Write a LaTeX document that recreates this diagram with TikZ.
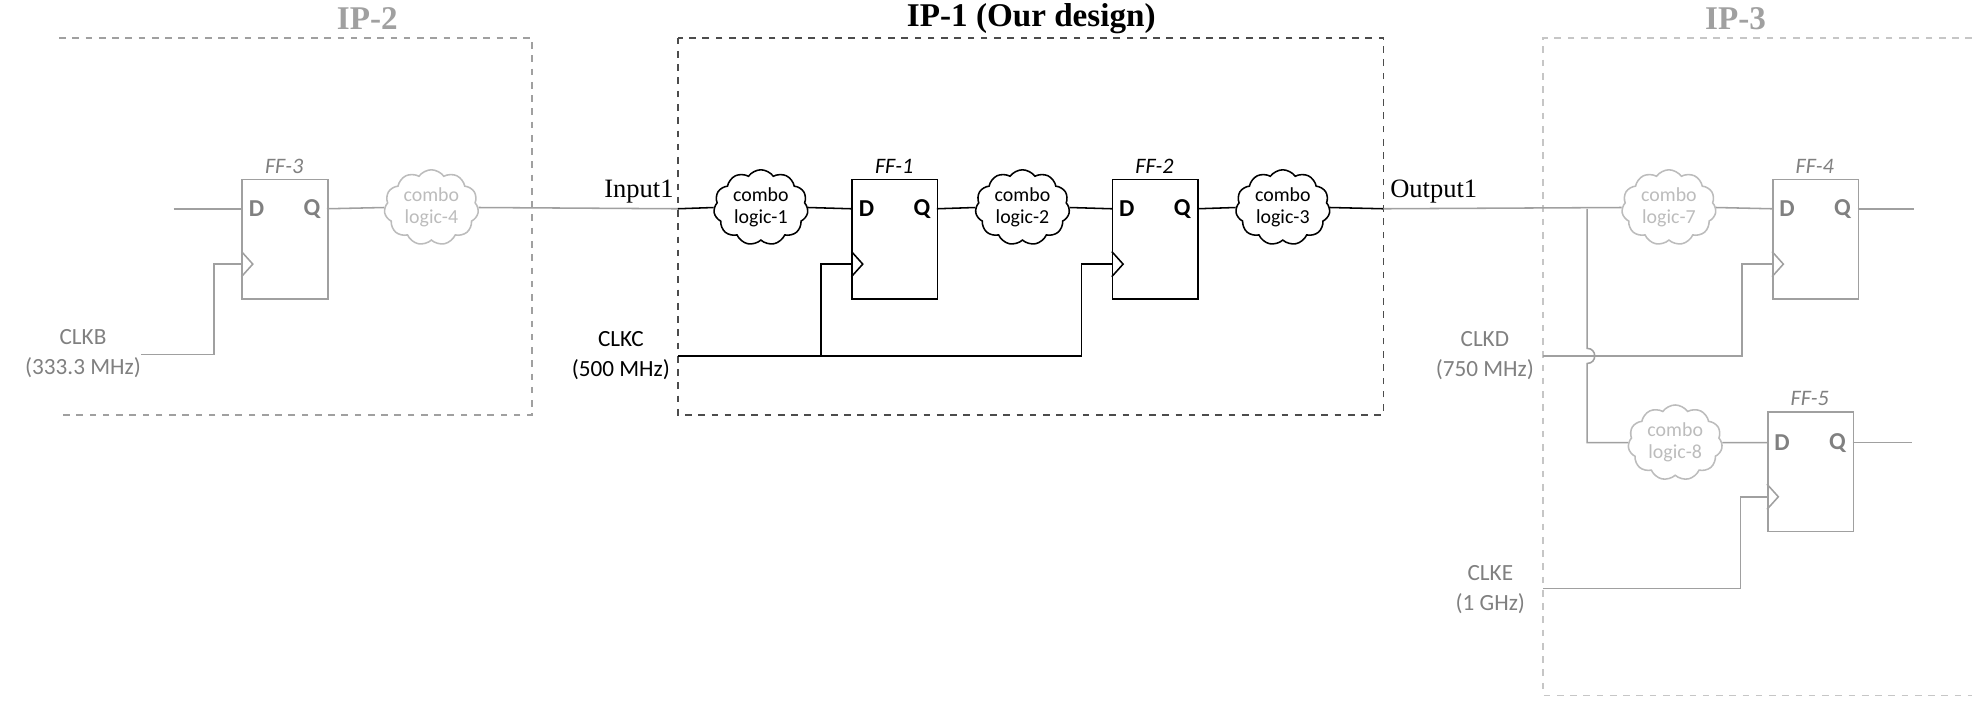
\documentclass[tikz,border=0pt]{standalone}
\usepackage{fontspec}
\setmainfont{Carlito}
\newfontfamily\titlefont{Liberation Serif}
\usetikzlibrary{shapes.symbols}
\definecolor{faded}{RGB}{160,160,160}
\definecolor{fadetext}{RGB}{128,128,128}
\tikzset{
    ff/.style={draw, minimum width=1.36cm, minimum height=1.9cm, anchor=north west, inner sep=0pt},
    combo/.style={cloud, cloud puffs=11, cloud puff arc=110, aspect=1.3, draw, minimum width=1.5cm, minimum height=1.2cm, inner sep=0pt, align=center, font=\fontsize{9}{10}\selectfont},
    pin/.style={font=\bfseries\fontsize{11}{12}\selectfont},
    fflabel/.style={font=\itshape\fontsize{10}{11}\selectfont},
    lbl/.style={align=center, inner sep=1pt, font=\fontsize{10.5}{13.5}\selectfont},
    title/.style={font=\titlefont\bfseries\fontsize{15}{16}\selectfont},
    ghost/.style={faded, text=fadetext},
    ipbox/.style={dashed, thick}
}
\begin{document}
\begin{tikzpicture}[x=0.02cm,y=-0.02cm,line width=0.7pt]
    \useasboundingbox (0,0) rectangle (1568,557);

    % boxes and titles
    \draw[ipbox,faded] (47,30) -- (423,30) -- (423,330) -- (47,330);
    \draw[ipbox,black!70] (539,30) rectangle (1100,330);
    \draw[ipbox,faded!60] (1568,30) -- (1227,30) -- (1227,553) -- (1568,553);
    \node[title,text=faded] (t2) at (292,15) {IP-2};
    \node[title] (t1) at (820,15) {IP-1 (Our design)};
    \node[title,text=faded] (t3) at (1380,15) {IP-3};

    % IP-2
    \begin{scope}[ghost]
        \node[ff] (ff3) at (192,142) {};
        \node[fflabel] at (226,132) {FF-3};
        \node[pin] at (204,166) {D};
        \node[pin] at (248,166) {Q};
        \draw (192,200) -- (201,210) -- (192,220);
        \node[combo,faded!70] (c4) at (343,165) {combo\\logic-4};
        \node[lbl] (clkb) at (66,281) {CLKB\\(333.3 MHz)};
        \coordinate (in3) at (138,166);
        \coordinate (clkbend) at (112,282);
        \draw (in3) -- (192,166);
        \draw (clkbend) -- (170,282) -- (170,210) -- (192,210);
        \draw (260,166) -- (c4.west);
        \draw (c4.east) -- (539,166);
    \end{scope}

    % IP-1
    \node[ff] (ff1) at (677,142) {};
    \node[fflabel] at (711,132) {FF-1};
    \node[pin] at (689,166) {D};
    \node[pin] at (733,166) {Q};
    \draw (677,200) -- (686,210) -- (677,220);
    \node[ff] (ff2) at (884,142) {};
    \node[fflabel] at (918,132) {FF-2};
    \node[pin] at (896,166) {D};
    \node[pin] at (940,166) {Q};
    \draw (884,200) -- (893,210) -- (884,220);
    \node[combo] (c1) at (605,165) {combo\\logic-1};
    \node[combo] (c2) at (813,165) {combo\\logic-2};
    \node[combo] (c3) at (1020,165) {combo\\logic-3};
    \node[font=\titlefont\fontsize{12}{14}\selectfont] (inp) at (508,152) {Input1};
    \node[font=\titlefont\fontsize{12}{14}\selectfont] (outp) at (1140,152) {Output1};
    \node[lbl,anchor=east] (clkc) at (535,283) {CLKC\\(500 MHz)};
    \draw (539,166) -- (c1.west);
    \draw (c1.east) -- (677,166);
    \draw (745,166) -- (c2.west);
    \draw (c2.east) -- (884,166);
    \draw (952,166) -- (c3.west);
    \draw (c3.east) -- (1100,166);
    \draw (539,283) -- (860,283) -- (860,210) -- (884,210);
    \draw (653,283) -- (653,210) -- (677,210);

    % IP-3
    \begin{scope}[ghost]
        \node[ff] (ff4) at (1409,142) {};
        \node[fflabel] at (1443,132) {FF-4};
        \node[pin] at (1421,166) {D};
        \node[pin] at (1465,166) {Q};
        \draw (1409,200) -- (1418,210) -- (1409,220);
        \node[ff] (ff5) at (1405,327) {};
        \node[fflabel] at (1439,317) {FF-5};
        \node[pin] at (1417,352) {D};
        \node[pin] at (1461,352) {Q};
        \draw (1405,385) -- (1414,395) -- (1405,405);
        \node[combo,faded!70] (c7) at (1327,165) {combo\\logic-7};
        \node[combo,faded!70] (c8) at (1332,352) {combo\\logic-8};
        \node[lbl,anchor=east] (clkd) at (1222,283) {CLKD\\(750 MHz)};
        \node[lbl] (clke) at (1185,469) {CLKE\\(1 GHz)};
        \coordinate (out4) at (1522,166);
        \coordinate (out5) at (1520,352);
        \draw (1100,166) -- (c7.west);
        \draw (c7.east) -- (1409,166);
        \draw (1477,166) -- (out4);
        \draw (1262,166) -- (1262,277) .. controls (1270,277) and (1270,289) .. (1262,289) -- (1262,352) -- (c8.west);
        \draw (c8.east) -- (1405,352);
        \draw (1473,352) -- (out5);
        \draw (1227,283) -- (1385,283) -- (1385,210) -- (1409,210);
        \draw (1227,468) -- (1384,468) -- (1384,395) -- (1405,395);
    \end{scope}
\end{tikzpicture}
\end{document}
